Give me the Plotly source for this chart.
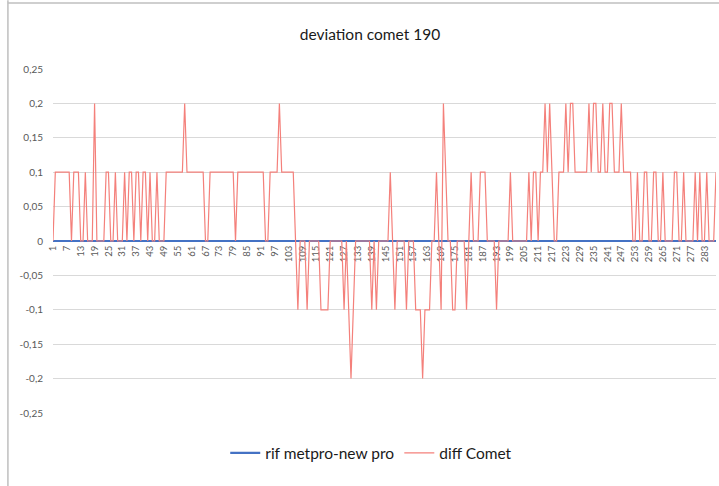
import plotly.graph_objs as go

# category axis 1..288 and the two series
categories = list(range(1, 289))
x_ticks = list(range(1, 289, 6))

rif_metpro = [0] * 288

diff_comet = [
    0, 0.1, 0.1, 0.1, 0.1, 0.1, 0.1, 0.1, 0, 0.1, 0.1, 0.1,
    0, 0, 0.1, 0, 0, 0, 0.2, 0, 0, 0, 0, 0.1,
    0.1, 0, 0, 0.1, 0, 0, 0, 0.1, 0, 0.1, 0.1, 0,
    0.1, 0.1, 0, 0.1, 0.1, 0, 0.1, 0, 0, 0.1, 0, 0,
    0, 0.1, 0.1, 0.1, 0.1, 0.1, 0.1, 0.1, 0.1, 0.2, 0.1, 0.1,
    0.1, 0.1, 0.1, 0.1, 0.1, 0.1, 0, 0, 0.1, 0.1, 0.1, 0.1,
    0.1, 0.1, 0.1, 0.1, 0.1, 0.1, 0.1, 0, 0.1, 0.1, 0.1, 0.1,
    0.1, 0.1, 0.1, 0.1, 0.1, 0.1, 0.1, 0.1, 0, 0, 0.1, 0.1,
    0.1, 0.1, 0.2, 0.1, 0.1, 0.1, 0.1, 0.1, 0.1, 0, -0.1, 0,
    0, 0, -0.1, 0, 0, 0, 0, 0, -0.1, -0.1, -0.1, -0.1,
    0, 0, 0, 0, 0, 0, -0.1, 0, -0.1, -0.2, -0.1, 0,
    0, 0, 0, 0, 0, 0, -0.1, 0, -0.1, 0, 0, 0,
    0, 0, 0.1, 0, -0.1, 0, 0, 0, 0, -0.1, 0, 0,
    0, -0.1, -0.1, -0.1, -0.2, -0.1, -0.1, -0.1, 0, 0, 0.1, 0,
    -0.1, 0.2, 0.1, 0, 0, -0.1, -0.1, 0, 0, 0, 0, -0.1,
    0, 0.1, 0, 0, 0, 0.1, 0.1, 0.1, 0, 0, 0, 0,
    -0.1, 0, 0, 0, 0, 0, 0.1, 0, 0, 0, 0, 0,
    0, 0, 0.1, 0, 0.1, 0.1, 0, 0.1, 0.1, 0.2, 0.1, 0.2,
    0.1, 0, 0, 0.1, 0.1, 0.1, 0.2, 0.1, 0.2, 0.2, 0.1, 0.1,
    0.1, 0.1, 0.1, 0.1, 0.2, 0.1, 0.2, 0.2, 0.1, 0.1, 0.2, 0.1,
    0.1, 0.2, 0.2, 0.1, 0.1, 0.1, 0.2, 0.1, 0.1, 0.1, 0.1, 0,
    0, 0.1, 0, 0, 0.1, 0.1, 0, 0, 0.1, 0.1, 0, 0,
    0.1, 0, 0, 0, 0, 0.1, 0.1, 0, 0, 0.1, 0, 0,
    0, 0, 0.1, 0, 0.1, 0, 0, 0.1, 0, 0, 0, 0.1,
]

y_ticks = [0.25, 0.2, 0.15, 0.1, 0.05, 0, -0.05, -0.1, -0.15, -0.2, -0.25]
y_labels = ["0,25", "0,2", "0,15", "0,1", "0,05", "0",
            "-0,05", "-0,1", "-0,15", "-0,2", "-0,25"]

fig = go.Figure()

fig.add_trace(go.Scatter(x=categories, y=rif_metpro, mode="lines",
                         name="rif metpro-new pro",
                         line=dict(color="#4472C4", width=2.2)))
fig.add_trace(go.Scatter(x=categories, y=diff_comet, mode="lines",
                         name="diff Comet",
                         line=dict(color="#F4807B", width=1.2)))

fig.update_layout(
    width=719, height=486,
    margin=dict(l=53, r=3, t=69, b=73),
    paper_bgcolor="white", plot_bgcolor="white",
    font=dict(family="Lato, Open Sans, sans-serif", color="#595959"),
    title=dict(text="deviation comet 190", x=370 / 719, xref="container",
               xanchor="center", y=1 - 35 / 486, yref="container",
               yanchor="middle",
               font=dict(size=15.5, color="#1a1a1a")),
    legend=dict(orientation="h", x=0.48, xanchor="center",
                y=-0.117, yanchor="middle",
                font=dict(size=15.5, color="#1a1a1a"),
                itemwidth=30, bgcolor="rgba(0,0,0,0)"),
    showlegend=True,
)

# x axis sits on the zero line, like the Excel chart
fig.update_xaxes(range=[1, 288], tickvals=x_ticks,
                 ticktext=[str(v) for v in x_ticks],
                 tickangle=-90, tickfont=dict(size=9.5, color="#595959"),
                 showgrid=False, zeroline=False,
                 showline=True, linecolor="#D9D9D9",
                 anchor="free", position=0.5, layer="below traces")

fig.update_yaxes(range=[-0.25, 0.25], tickvals=y_ticks, ticktext=y_labels,
                 tickfont=dict(size=10, color="#595959"),
                 showgrid=True, gridcolor="#D9D9D9", zeroline=False,
                 ticklabelstandoff=9)

# chart area border (left and top edges visible in the crop)
fig.add_shape(type="line", xref="paper", yref="paper",
              x0=-0.068, x1=-0.068, y0=-0.3, y1=1.2,
              line=dict(color="#BFBFBF", width=1.5))
fig.add_shape(type="line", xref="paper", yref="paper",
              x0=-0.068, x1=1.01, y0=1.192, y1=1.192,
              line=dict(color="#BFBFBF", width=1.5))

# drop the default page margin so the figure fills the window
fig.write_html("out.html", config={"displayModeBar": False},
               post_script="document.body.style.margin='0';")
